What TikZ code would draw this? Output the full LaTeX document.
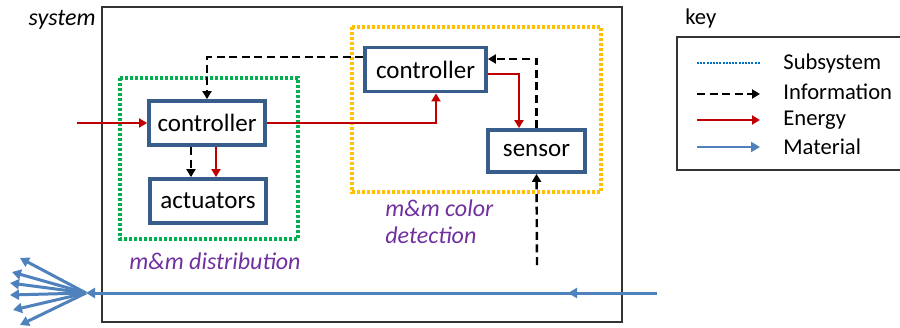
\documentclass[tikz,border=0pt]{standalone}
\usepackage{fontspec}
\setmainfont{Carlito}
\usetikzlibrary{
    arrows.meta,
    positioning,
    calc
}
\definecolor{boxblue}{RGB}{56,93,138}
\definecolor{subgreen}{RGB}{0,176,80}
\definecolor{subyellow}{RGB}{255,192,0}
\definecolor{energyred}{RGB}{192,0,0}
\definecolor{matblue}{RGB}{79,129,189}
\definecolor{labelpurple}{RGB}{112,48,160}
\definecolor{keyblue}{RGB}{0,112,192}

\begin{document}
\begin{tikzpicture}[
        x=0.5pt, y=-0.5pt,
        block/.style={draw=boxblue, line width=1.9pt, fill=white, minimum height=22pt, font=\fontsize{12.5}{15}\selectfont},
        subsys/.style={line width=1.6pt, dash pattern=on 1.6pt off 0.9pt},
        info/.style={-{Triangle[length=4pt,width=4.5pt]}, line width=1.2pt, dash pattern=on 4pt off 2.3pt},
        energy/.style={-{Triangle[length=4pt,width=4.5pt]}, line width=1.1pt, energyred},
        material/.style={-{Triangle[length=4.5pt,width=5pt]}, line width=1.5pt, matblue},
        sublabel/.style={font=\fontsize{12}{13.5}\selectfont\itshape, text=labelpurple, inner sep=0pt},
        keytext/.style={font=\fontsize{11.3}{13}\selectfont, anchor=west, inner sep=0pt}
    ]
        \useasboundingbox (0,0) rectangle (900,327);

        % system boundary
        \draw[line width=0.6pt, black!80] (102,7) rectangle (622,322);
        \node[anchor=east, inner sep=0pt, font=\fontsize{12}{14}\selectfont\itshape] (syslabel) at (96,20) {system};

        % subsystems
        \draw[subsys, subgreen] (120,78) rectangle (298,239);
        \draw[subsys, subyellow] (352,27) rectangle (601,192);
        \node[sublabel] (distlabel) at (215,261) {m\&m distribution};
        \node[sublabel, anchor=north west, align=left] (colorlabel) at (385,199) {m\&m color\\detection};

        % blocks
        \node[block, minimum width=58pt] (ctrl1) at (207,123) {controller};
        \node[block, minimum width=58pt] (act) at (208,201) {actuators};
        \node[block, minimum width=60.5pt] (ctrl2) at (425.5,69.5) {controller};
        \node[block, minimum width=48.5pt, minimum height=21pt] (sensor) at (536.5,151) {sensor};

        % energy flows
        \coordinate (pwrin) at (77,123);
        \draw[energy] (pwrin) -- (ctrl1);
        \draw[energy] ([xshift=4.5pt]ctrl1.south) -- ([xshift=4pt]act.north);
        \draw[energy] (ctrl1.east) -| ([xshift=5.25pt]ctrl2.south);
        \draw[energy] ([yshift=-2.25pt]ctrl2.east) -| ([xshift=-8.75pt]sensor.north);

        % information flows
        \draw[info] ([xshift=-8pt]ctrl1.south) -- ([xshift=-8.5pt]act.north);
        \draw[info] ([yshift=6.25pt]ctrl2.west) -| (ctrl1.north);
        \draw[info] (sensor.north) |- ([yshift=5.25pt]ctrl2.east);
        \coordinate (colorin) at (537,265);
        \draw[info] (colorin) -- (sensor.south);

        % material flow
        \coordinate (matin) at (657,293);
        \coordinate (fan) at (86,293);
        \draw[material] (matin) -- (fan);
        \draw[material] (matin) -- ++(-89,0);
        \foreach \tx/\ty in {20/258, 12/272, 10/283, 10/295, 13/310, 20/325}
            \draw[material] (fan) -- (\tx,\ty);

        % key
        \node[anchor=west, inner sep=0pt, font=\fontsize{11.3}{13}\selectfont] (keylabel) at (685,18) {key};
        \draw[line width=0.6pt, black!80] (900,37) -- (677,37) -- (677,170) -- (900,170);
        \coordinate (k1a) at (697,63);  \coordinate (k1b) at (760,63);
        \coordinate (k2a) at (697,94);  \coordinate (k2b) at (760,94);
        \coordinate (k3a) at (697,120); \coordinate (k3b) at (760,120);
        \coordinate (k4a) at (697,147); \coordinate (k4b) at (760,147);
        \draw[line width=1pt, keyblue, dash pattern=on 1pt off 0.6pt] (k1a) -- (k1b);
        \draw[info] (k2a) -- (k2b);
        \draw[energy] (k3a) -- (k3b);
        \draw[material, line width=1pt] (k4a) -- (k4b);
        \node[keytext] (k1t) at (783,63) {Subsystem};
        \node[keytext] (k2t) at (783,92) {Information};
        \node[keytext] (k3t) at (783,120) {Energy};
        \node[keytext] (k4t) at (783,147) {Material};
    \end{tikzpicture}
\end{document}
